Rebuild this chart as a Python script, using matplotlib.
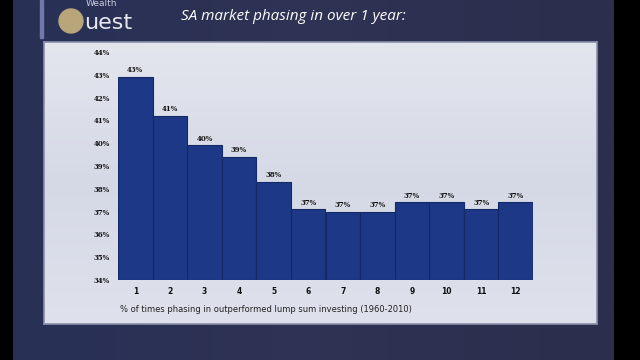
import numpy as np
import matplotlib
matplotlib.use("Agg")
import matplotlib.pyplot as plt
from matplotlib.patches import Rectangle, Circle
from matplotlib.colors import LinearSegmentedColormap

# data
periods = [1, 2, 3, 4, 5, 6, 7, 8, 9, 10, 11, 12]
pct = [42.9, 41.2, 39.9, 39.4, 38.3, 37.1, 37.0, 37.0, 37.4, 37.4, 37.1, 37.4]
yticks = [34, 35, 36, 37, 38, 39, 40, 41, 42, 43, 44]
title = "SA market phasing in over 1 year:"
caption = "% of times phasing in outperformed lump sum investing (1960-2010)"

W, H = 640, 360
fig = plt.figure(figsize=(6.4, 3.6), dpi=100)
fig.patch.set_facecolor("black")

def fx(px):
    return px / W

def fy(py):
    return 1 - py / H

# slide background (navy gradient)
bg = fig.add_axes([fx(13), 0, fx(614 - 13), 1])
grad = np.linspace(0, 1, 256).reshape(1, -1)
navy = LinearSegmentedColormap.from_list("navy", ["#283056", "#2f3354", "#2b2e4c"])
bg.imshow(grad, aspect="auto", cmap=navy, extent=[0, 1, 0, 1])
bg.set_axis_off()

# light panel
panel = fig.add_axes([fx(44), fy(324), fx(597 - 44), fy(42) - fy(324)])
pg = np.linspace(0, 1, 256).reshape(-1, 1)
light = LinearSegmentedColormap.from_list("light", ["#e4e6ee", "#d5d9e6", "#dfe2ec"])
panel.imshow(pg, aspect="auto", cmap=light, extent=[0, 1, 0, 1])
panel.set_xticks([])
panel.set_yticks([])
for s in panel.spines.values():
    s.set_color("#8a8fa8")
    s.set_linewidth(1.2)

# bar chart
ax = fig.add_axes([fx(118), fy(280), fx(533 - 118), fy(52) - fy(280)])
ax.patch.set_alpha(0)
bars = ax.bar(periods, [p - 34 for p in pct], bottom=34, width=1.0,
              color="#1c3886", edgecolor="#132a66", linewidth=0.8)
for x, p in zip(periods, pct):
    ax.text(x, p + 0.12, "%d%%" % round(p), ha="center", va="bottom",
            fontsize=5, fontweight="bold", family="DejaVu Serif", color="#111111")
ax.set_xlim(0.5, 12.5)
ax.set_ylim(34, 44)
ax.set_yticks(yticks)
ax.set_yticklabels(["%d%%" % t for t in yticks], fontsize=5, fontweight="bold",
                   family="DejaVu Serif")
ax.set_xticks(periods)
ax.set_xticklabels([str(p) for p in periods], fontsize=5.5, fontweight="bold")
ax.tick_params(length=0, pad=5, colors="#111111")
ax.tick_params(axis="y", pad=6)
for s in ax.spines.values():
    s.set_visible(False)

fig.text(fx(120), fy(310), caption, fontsize=6, color="#222222", va="center")

# title
fig.text(fx(181), fy(17), title, fontsize=11, style="italic", color="white",
         family="Open Sans", va="center")

# logo
logo = fig.add_axes([0, 0, 1, 1])
logo.set_xlim(0, W)
logo.set_ylim(H, 0)
logo.set_axis_off()
logo.add_patch(Rectangle((40, 0), 3, 38, color="#6f7aa8"))
logo.add_patch(Circle((71, 21), 12, color="#b8a57a"))
logo.text(86, 3, "Wealth", fontsize=6.5, color="#c8cce0", va="center")
logo.text(84, 23, "uest", fontsize=16, color="#e8e8f0", va="center")

fig.savefig("out.png", dpi=100, facecolor=fig.get_facecolor())
